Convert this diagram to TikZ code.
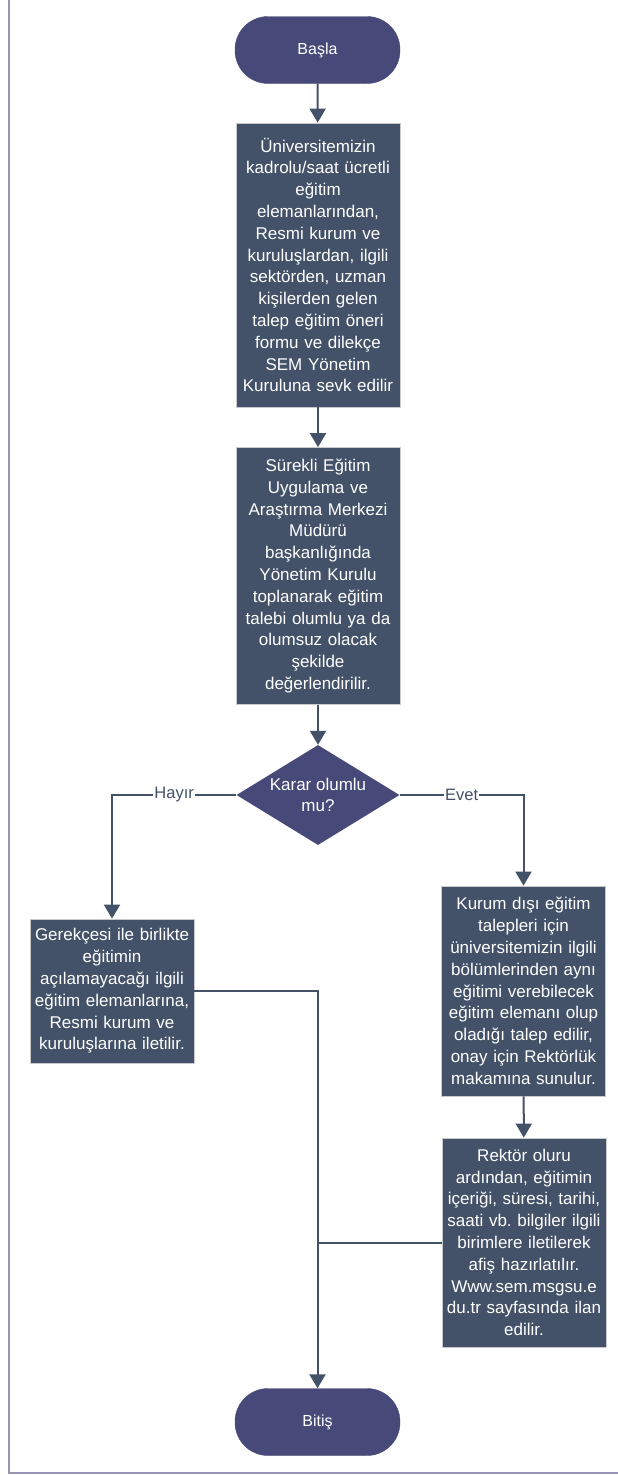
\documentclass[tikz,border=0pt]{standalone}
\usepackage{fontspec}
\setmainfont{Liberation Sans}
\usetikzlibrary{shapes.geometric,arrows.meta}
\definecolor{termc}{RGB}{71,74,121}
\definecolor{boxc}{RGB}{67,82,104}
\definecolor{edgec}{RGB}{200,200,205}
\definecolor{framec}{RGB}{150,150,180}
\definecolor{linec}{RGB}{67,82,104}
\frenchspacing
\begin{document}
\begin{tikzpicture}[x=1pt,y=-1pt,
  txt/.style={font=\fontsize{17}{21.8}\selectfont, text=white, align=center},
  terminal/.style={txt, draw=termc, fill=termc, rounded corners=33pt, minimum width=165pt, minimum height=67pt, inner sep=0pt, font=\fontsize{16}{20}\selectfont},
  process/.style={txt, draw=edgec, line width=0.8pt, fill=boxc, text width=164pt, minimum height=#1, inner sep=0pt},
  decision/.style={txt, diamond, fill=termc, minimum width=163pt, minimum height=100pt, inner sep=0pt, shape aspect=1.63},
  conn/.style={draw=linec, line width=2pt, -{Triangle[width=16pt,length=14pt]}},
  plainline/.style={draw=linec, line width=2pt},
  lbl/.style={fill=white, text=linec, font=\fontsize{16.5}{20}\selectfont, inner sep=1pt}
]
\useasboundingbox (0,0) rectangle (618,1475);
\draw[framec, line width=2pt] (9,0) -- (9,1473) -- (618,1473);

\node[terminal] (start) at (317.5,50) {Başla};
\node[process=284pt] (b1) at (318,265) {Üniversitemizin\\kadrolu/saat ücretli\\eğitim\\elemanlarından,\\Resmi kurum ve\\kuruluşlardan, ilgili\\sektörden, uzman\\kişilerden gelen\\talep eğitim öneri\\formu ve dilekçe\\SEM Yönetim\\Kuruluna sevk edilir};
\node[process=257pt] (b2) at (318,576) {Sürekli Eğitim\\Uygulama ve\\Araştırma Merkezi\\Müdürü\\başkanlığında\\Yönetim Kurulu\\toplanarak eğitim\\talebi olumlu ya da\\olumsuz olacak\\şekilde\\değerlendirilir.};
\node[decision] (dec) at (318,795) {Karar olumlu\\mu?};
\node[process=144pt] (b3) at (112,991) {Gerekçesi ile birlikte\\eğitimin\\açılamayacağı ilgili\\eğitim elemanlarına,\\Resmi kurum ve\\kuruluşlarına iletilir.};
\node[process=210pt] (b4) at (523.5,991) {Kurum dışı eğitim\\talepleri için\\üniversitemizin ilgili\\bölümlerinden aynı\\eğitimi verebilecek\\eğitim elemanı olup\\oladığı talep edilir,\\onay için Rektörlük\\makamına sunulur.};
\node[process=209pt] (b5) at (524,1242.5) {Rektör oluru\\ardından, eğitimin\\içeriği, süresi, tarihi,\\saati vb. bilgiler ilgili\\birimlere iletilerek\\afiş hazırlatılır.\\Www.sem.msgsu.e\\du.tr sayfasında ilan\\edilir.};
\node[terminal] (end) at (317.5,1422) {Bitiş};

\draw[conn] (start) -- (b1);
\draw[conn] (b1) -- (b2);
\draw[conn] (b2) -- (dec);
\draw[conn] (dec.west) -| node[lbl,pos=0.25]{Hayır} (b3.north);
\draw[conn] (dec.east) -| node[lbl,pos=0.25]{Evet} (b4.north);
\draw[conn] (b4) -- (b5);
\draw[conn] (b3.east) -| (end.north);
\draw[plainline] (b5.west) -- (b5.west -| end.north);
\end{tikzpicture}
\end{document}
